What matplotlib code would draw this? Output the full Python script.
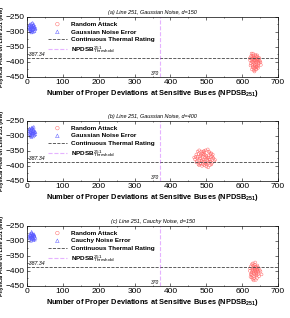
import matplotlib.pyplot as plt
import numpy as np
from matplotlib.ticker import MultipleLocator

plt.rcParams['font.family'] = ['Liberation Sans', 'DejaVu Sans']
plt.rcParams['mathtext.fontset'] = 'custom'
plt.rcParams['mathtext.rm'] = 'Liberation Sans'
plt.rcParams['mathtext.bf'] = 'Liberation Sans:bold'

# NPDSB threshold and thermal rating
threshold = 370
rating = -387.34

titles = ["(a) Line 251, Gaussian Noise, d=150",
          "(b) Line 251, Gaussian Noise, d=400",
          "(c) Line 251, Cauchy Noise, d=150"]
noise_labels = ["Gaussian Noise Error", "Gaussian Noise Error", "Cauchy Noise Error"]

# random attack clouds
attack_x_a = [622, 625, 628, 630, 633, 636, 639, 642, 645, 648, 624, 627, 631, 634, 637, 640, 643, 646, 650, 652,
              621, 626, 629, 632, 635, 638, 641, 644, 647, 651, 626, 630, 634, 638, 642, 629, 636, 640, 633, 645,
              623, 628, 632, 637, 641, 646, 631, 635, 639, 643, 627, 634, 638, 644, 630, 636, 641, 625, 632, 640]
attack_y_a = [-395, -380, -410, -372, -420, -388, -402, -378, -412, -395, -405, -425, -385, -398, -376, -415, -390, -405, -398, -410,
              -388, -395, -418, -428, -408, -396, -382, -420, -386, -402, -372, -400, -414, -426, -392, -382, -394, -408, -388, -398,
              -412, -390, -404, -420, -396, -388, -378, -386, -424, -416, -400, -432, -380, -402, -416, -410, -392, -384, -395, -418]

attack_x_b = [470, 474, 478, 482, 486, 490, 494, 498, 502, 506, 510, 514, 518, 522, 468, 476, 484, 492, 500, 508,
              516, 472, 480, 488, 496, 504, 512, 520, 478, 486, 494, 502, 510, 482, 490, 498, 506, 514, 488, 496,
              504, 492, 500, 476, 484, 508, 516, 472, 480, 512, 494, 500, 486, 498, 490, 505, 483, 510, 495, 502,
              466, 524, 488, 518, 480, 497, 507, 475, 491, 513]
attack_y_b = [-370, -385, -360, -392, -352, -378, -398, -348, -388, -365, -380, -395, -372, -385, -378, -370, -390, -360, -402, -355,
              -368, -362, -348, -384, -372, -392, -386, -375, -395, -365, -355, -380, -398, -375, -395, -365, -372, -358, -358, -388,
              -345, -385, -368, -352, -362, -378, -390, -388, -380, -360, -350, -395, -382, -378, -370, -405, -368, -385, -362, -375,
              -372, -380, -400, -362, -398, -392, -352, -375, -352, -370]

attack_x_c = [621, 624, 627, 630, 633, 636, 639, 642, 645, 649, 623, 628, 632, 635, 638, 641, 644, 647, 651, 654,
              622, 626, 629, 634, 637, 640, 643, 646, 625, 631, 636, 641, 628, 633, 638, 630, 635, 640, 627, 644,
              624, 629, 634, 639, 632, 637, 642, 626, 631, 636]
attack_y_c = [-400, -385, -415, -375, -425, -392, -405, -382, -410, -398, -420, -392, -402, -380, -430, -396, -388, -418, -402, -412,
              -392, -405, -428, -410, -386, -416, -400, -392, -410, -388, -372, -424, -396, -418, -402, -382, -396, -410, -378, -404,
              -412, -400, -390, -386, -432, -414, -396, -422, -406, -398]

# noise error clouds
noise_x_a = [5, 8, 11, 14, 17, 20, 23, 6, 9, 12, 15, 18, 21, 24, 7, 10, 13, 16, 19, 22, 8, 12, 16, 20, 10, 14, 18, 11, 15, 13]
noise_y_a = [-285, -275, -295, -280, -300, -285, -292, -292, -282, -272, -290, -278, -298, -288, -278, -298, -285, -295, -275, -282,
             -288, -302, -270, -290, -290, -280, -286, -292, -284, -296]
noise_x_b = [5, 8, 11, 14, 17, 20, 23, 6, 9, 12, 15, 18, 21, 24, 7, 10, 13, 16, 19, 22, 8, 12, 16, 20, 10, 14, 18, 11, 15, 13]
noise_y_b = [-284, -278, -296, -272, -302, -288, -295, -290, -282, -275, -292, -278, -298, -288, -276, -300, -286, -292, -270, -284,
             -294, -304, -274, -290, -288, -280, -283, -296, -285, -292]
noise_x_c = [6, 9, 12, 15, 18, 21, 24, 7, 10, 13, 16, 19, 22, 8, 11, 14, 17, 20, 9, 13, 17, 21, 11, 15, 19, 12, 16, 14]
noise_y_c = [-285, -276, -295, -280, -298, -285, -290, -292, -282, -274, -290, -280, -296, -280, -300, -286, -292, -278, -288, -270,
             -284, -282, -290, -280, -294, -286, -276, -288]

attack_x = [attack_x_a, attack_x_b, attack_x_c]
attack_y = [attack_y_a, attack_y_b, attack_y_c]
noise_x = [noise_x_a, noise_x_b, noise_x_c]
noise_y = [noise_y_a, noise_y_b, noise_y_c]

fig = plt.figure(figsize=(2.9, 3.18), dpi=100)
bottoms = [0.758, 0.431, 0.101]

for i in range(3):
    ax = fig.add_axes([0.093, bottoms[i], 0.866, 0.189])
    ax.scatter(attack_x[i], attack_y[i], s=4, facecolors='none', edgecolors='#ff6a6a',
               linewidths=0.35, marker='o', label='Random Attack')
    ax.scatter(noise_x[i], noise_y[i], s=4, facecolors='none', edgecolors='#5a5aff',
               linewidths=0.35, marker='^', label=noise_labels[i])
    ax.axhline(rating, color='#444444', ls='--', lw=0.6, label='Continuous Thermal Rating')
    ax.axvline(threshold, color='#cc66ff', ls='--', lw=0.8, alpha=0.5,
               label='NPDSB$^{251}_{\\mathrm{Threshold}}$')
    ax.text(3, rating + 4, '-387.34', fontsize=3.8, style='italic', va='bottom')
    ax.text(threshold - 2, -447, '370', fontsize=3.5, style='italic', ha='right', va='bottom')
    ax.set_xlim(0, 700)
    ax.set_ylim(-450, -250)
    ax.set_xticks(np.arange(0, 701, 100))
    ax.set_yticks(np.arange(-450, -249, 50))
    ax.xaxis.set_minor_locator(MultipleLocator(50))
    ax.yaxis.set_minor_locator(MultipleLocator(25))
    ax.tick_params(which='both', labelsize=6, direction='in', width=0.4, pad=1.5,
                   top=True, right=True)
    ax.tick_params(which='major', length=2)
    ax.tick_params(which='minor', length=1)
    for sp in ax.spines.values():
        sp.set_linewidth(0.5)
    ax.set_title(titles[i], fontsize=4, style='italic', pad=2)
    ax.set_xlabel('Number of Proper Deviations at Sensitive Buses (NPDSB$_{\\mathbf{251}}$)',
                  fontsize=5.3, fontweight='bold', labelpad=1.5)
    ax.set_ylabel('Physical Flow on Line 251 (MW)', fontsize=3.8, fontweight='bold', labelpad=1)
    ax.legend(loc='upper left', bbox_to_anchor=(0.065, 1.0), frameon=False,
              prop={'size': 4.6, 'weight': 'bold'}, handlelength=3.0,
              labelspacing=0.35, borderpad=0.2, handletextpad=0.6, markerscale=1.3)

fig.savefig('out.png', dpi=100)
